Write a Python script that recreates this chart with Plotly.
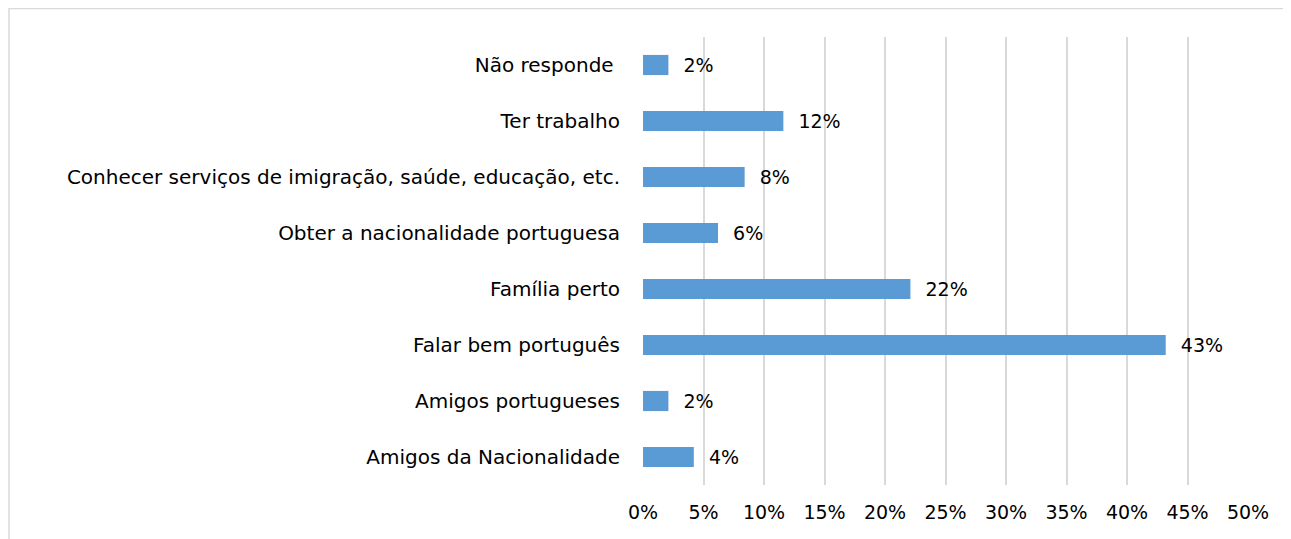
import plotly.graph_objects as go

categories = [
    "Amigos da Nacionalidade",
    "Amigos portugueses",
    "Falar bem português",
    "Família perto",
    "Obter a nacionalidade portuguesa",
    "Conhecer serviços de imigração, saúde, educação, etc.",
    "Ter trabalho",
    "Não responde\u00a0",
]
values = [4.2, 2.1, 43.2, 22.1, 6.2, 8.4, 11.6, 2.1]
labels = ["4%", "2%", "43%", "22%", "6%", "8%", "12%", "2%"]
x_ticks = [0, 5, 10, 15, 20, 25, 30, 35, 40, 45, 50]
x_tick_labels = [f"{t}%" for t in x_ticks]

FONT = "DejaVu Sans"
FS = 20
TICK_FS = 19

# page has an 8px body margin; figure sized to fit the 1291x539 window
W, H = 1283, 531
L, R, T, B = 635, 43, 29, 54
PW, PH = W - L - R, H - T - B

fig = go.Figure(
    go.Bar(
        x=values,
        y=categories,
        orientation="h",
        marker=dict(color="#5B9BD5", line=dict(width=0)),
        text=["  " + l for l in labels],
        textposition="outside",
        constraintext="none",
        textfont=dict(family=FONT, size=TICK_FS, color="#000000"),
        cliponaxis=False,
        width=0.36,
    )
)

fig.update_layout(
    width=W,
    height=H,
    margin=dict(l=L, r=R, t=T, b=B),
    paper_bgcolor="white",
    plot_bgcolor="white",
    showlegend=False,
    uniformtext=dict(mode=False),
    font=dict(family=FONT, size=FS, color="#000000"),
    xaxis=dict(
        range=[0, 50],
        tickvals=x_ticks,
        ticktext=x_tick_labels,
        showgrid=True,
        gridcolor="#D9D9D9",
        gridwidth=1.5,
        zeroline=False,
        showline=False,
        ticks="",
        ticklabelstandoff=14,
        tickfont=dict(family=FONT, size=TICK_FS, color="#000000"),
    ),
    yaxis=dict(
        showgrid=False,
        zeroline=False,
        showline=False,
        ticks="",
        ticklabelstandoff=22,
        tickfont=dict(family=FONT, size=FS, color="#000000"),
        range=[-0.5, 7.5],
    ),
    shapes=[
        dict(
            type="rect",
            xref="paper",
            yref="paper",
            x0=(1 - L) / PW,
            x1=(W + 10 - L) / PW,
            y0=-0.3,
            y1=(H - B - 0.5) / PH,
            line=dict(color="#D9D9D9", width=1.5),
            fillcolor="rgba(0,0,0,0)",
            layer="below",
        )
    ],
)

fig.write_html("out.html")
